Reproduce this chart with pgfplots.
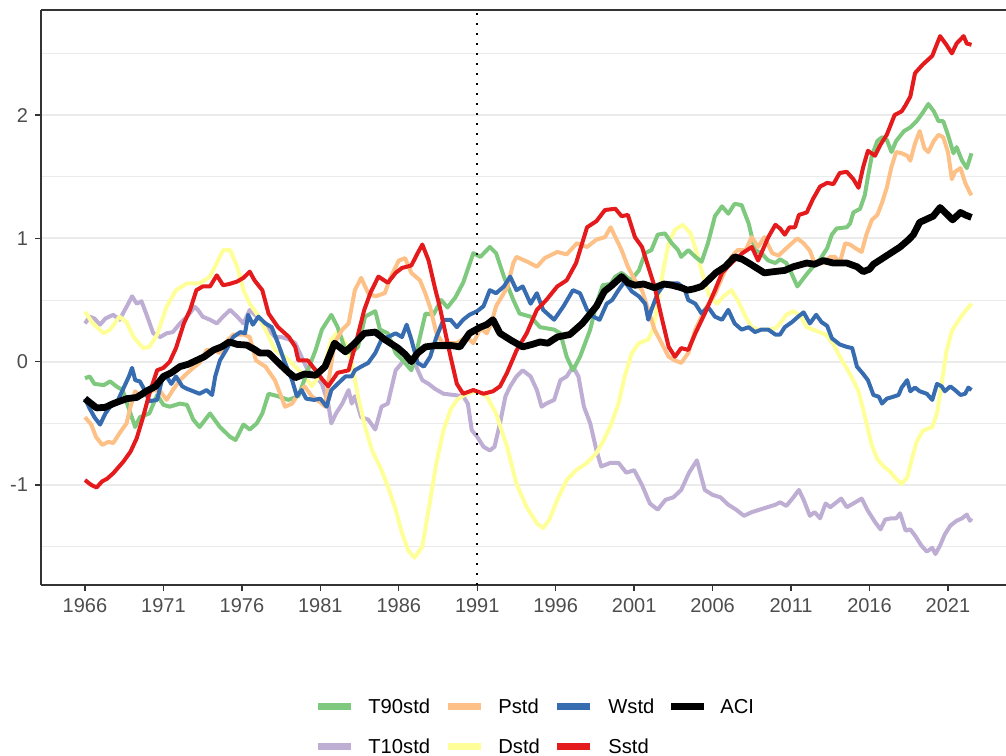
\documentclass[border=0pt]{standalone}
\usepackage{fontspec}
\setmainfont{Liberation Sans}
\usepackage{pgfplots}
\pgfplotsset{compat=1.18}
\definecolor{cT90}{HTML}{7FC97F}
\definecolor{cT10}{HTML}{BEAED4}
\definecolor{cP}{HTML}{FDC086}
\definecolor{cD}{HTML}{FFFF99}
\definecolor{cW}{HTML}{386CB0}
\definecolor{cS}{HTML}{E41A1C}
\definecolor{gtwenty}{HTML}{333333}
\definecolor{gthirty}{HTML}{4D4D4D}
\definecolor{gridc}{HTML}{EBEBEB}
\begin{document}
\begin{tikzpicture}
\begin{axis}[
  scale only axis, width=482.5pt, height=287.5pt,
  xmin=1963.196, xmax=2024.7, ymin=-1.811, ymax=2.852,
  axis x line*=bottom, axis y line*=left,
  axis line style={color=gtwenty, line width=0.7pt},
  xtick={1966,1971,...,2021},
  ytick={-1,0,1,2},
  minor ytick={-1.5,-0.5,0.5,1.5,2.5},
  ymajorgrids, yminorgrids,
  major grid style={color=gridc, line width=1pt},
  minor grid style={color=gridc, line width=0.5pt},
  tick style={color=gtwenty, line width=0.7pt},
  major tick length=3pt, minor tick length=0pt,
  tick align=outside,
  ticklabel style={font=\fontsize{10}{12}\selectfont, color=gthirty},
  /pgf/number format/1000 sep={},
  /pgf/number format/assume math mode=true,
  every axis plot/.append style={line join=round},
]
% T10std
\addplot[forget plot, cT10, line width=2pt] coordinates {
(1966.0,0.31)(1966.3,0.365)(1966.6,0.35)(1966.96,0.30)(1967.3,0.35)(1967.8,0.38)(1968.2,0.34)(1968.65,0.445)(1969.0,0.53)(1969.3,0.47)(1969.6,0.49)(1969.9,0.39)(1970.35,0.23)(1970.8,0.20)(1971.2,0.23)(1971.6,0.24)(1972.05,0.31)(1972.5,0.365)(1973.0,0.445)(1973.2,0.42)(1973.5,0.365)(1973.97,0.34)(1974.4,0.31)(1974.8,0.365)(1975.25,0.42)(1975.7,0.365)(1976.1,0.31)(1976.5,0.42)(1976.95,0.365)(1977.3,0.33)(1977.7,0.26)(1978.1,0.20)(1978.5,0.20)(1979.0,0.18)(1979.4,0.15)(1979.8,0.04)(1980.2,-0.07)(1980.7,-0.12)(1981.1,-0.18)(1981.5,-0.34)(1981.7,-0.50)(1982.0,-0.42)(1982.4,-0.34)(1982.8,-0.23)(1983.0,-0.34)(1983.2,-0.28)(1983.6,-0.45)(1984.05,-0.47)(1984.5,-0.55)(1984.9,-0.365)(1985.3,-0.34)(1985.8,-0.07)(1986.2,-0.01)(1986.6,0.04)(1987.0,-0.01)(1987.5,-0.15)(1987.9,-0.18)(1988.3,-0.22)(1988.85,-0.26)(1989.5,-0.27)(1990.1,-0.28)(1990.4,-0.34)(1990.65,-0.555)(1991.0,-0.61)(1991.4,-0.69)(1991.8,-0.72)(1992.1,-0.69)(1992.45,-0.50)(1992.8,-0.28)(1993.1,-0.20)(1993.5,-0.12)(1993.9,-0.07)(1994.4,-0.12)(1994.8,-0.23)(1995.1,-0.365)(1995.4,-0.34)(1995.9,-0.31)(1996.3,-0.15)(1996.7,-0.12)(1997.1,-0.04)(1997.45,-0.12)(1997.8,-0.365)(1998.2,-0.50)(1998.6,-0.72)(1998.9,-0.85)(1999.5,-0.82)(2000.0,-0.82)(2000.5,-0.90)(2001.0,-0.88)(2001.5,-1.00)(2002.0,-1.15)(2002.5,-1.20)(2003.0,-1.12)(2003.5,-1.10)(2004.0,-1.04)(2004.5,-0.90)(2005.0,-0.80)(2005.5,-1.04)(2006.0,-1.08)(2006.5,-1.10)(2007.0,-1.16)(2007.5,-1.20)(2008.0,-1.25)(2008.5,-1.22)(2009.0,-1.20)(2009.5,-1.18)(2010.0,-1.16)(2010.3,-1.14)(2010.7,-1.17)(2011.15,-1.10)(2011.5,-1.04)(2011.8,-1.12)(2012.2,-1.25)(2012.5,-1.22)(2012.85,-1.27)(2013.2,-1.15)(2013.5,-1.18)(2013.8,-1.15)(2014.2,-1.11)(2014.55,-1.18)(2014.97,-1.15)(2015.5,-1.11)(2015.9,-1.21)(2016.35,-1.30)(2016.7,-1.36)(2017.0,-1.28)(2017.4,-1.27)(2017.7,-1.27)(2017.95,-1.23)(2018.3,-1.37)(2018.6,-1.36)(2018.9,-1.41)(2019.3,-1.49)(2019.65,-1.54)(2020.0,-1.51)(2020.2,-1.56)(2020.5,-1.49)(2020.8,-1.40)(2021.15,-1.33)(2021.55,-1.29)(2021.9,-1.27)(2022.2,-1.24)(2022.4,-1.29)(2022.5,-1.27)};
% Dstd
\addplot[forget plot, cD, line width=2pt] coordinates {
(1966.0,0.405)(1966.5,0.31)(1967.2,0.23)(1967.6,0.26)(1968.2,0.365)(1968.65,0.32)(1969.1,0.20)(1969.7,0.11)(1970.1,0.12)(1970.6,0.22)(1971.2,0.445)(1971.8,0.58)(1972.5,0.635)(1973.3,0.635)(1973.97,0.69)(1974.4,0.80)(1974.8,0.905)(1975.25,0.905)(1975.7,0.77)(1976.1,0.58)(1976.5,0.47)(1976.95,0.39)(1977.5,0.26)(1978.1,0.095)(1978.75,0.04)(1979.4,-0.04)(1980.0,-0.12)(1980.45,-0.20)(1980.9,-0.12)(1981.3,-0.01)(1981.7,0.18)(1982.1,0.24)(1982.6,0.15)(1983.0,-0.01)(1983.4,-0.28)(1983.85,-0.53)(1984.3,-0.72)(1984.9,-0.88)(1985.3,-1.01)(1985.8,-1.20)(1986.2,-1.39)(1986.6,-1.53)(1987.0,-1.59)(1987.5,-1.50)(1987.9,-1.20)(1988.4,-0.82)(1988.85,-0.555)(1989.3,-0.39)(1989.7,-0.31)(1990.3,-0.26)(1991.0,-0.24)(1991.6,-0.28)(1992.2,-0.42)(1992.9,-0.69)(1993.5,-0.99)(1994.15,-1.18)(1994.8,-1.31)(1995.2,-1.35)(1995.6,-1.28)(1996.1,-1.12)(1996.7,-0.96)(1997.3,-0.88)(1998.0,-0.82)(1998.6,-0.74)(1999.0,-0.65)(1999.5,-0.52)(2000.0,-0.34)(2000.4,-0.12)(2000.85,0.07)(2001.3,0.15)(2001.9,0.18)(2002.2,0.26)(2002.5,0.47)(2002.85,0.74)(2003.2,0.96)(2003.6,1.07)(2004.1,1.11)(2004.6,1.04)(2005.0,0.88)(2005.4,0.69)(2005.8,0.53)(2006.3,0.47)(2006.7,0.53)(2007.2,0.58)(2007.6,0.50)(2008.1,0.365)(2008.5,0.28)(2008.9,0.26)(2009.55,0.26)(2010.0,0.27)(2010.3,0.31)(2010.7,0.38)(2011.15,0.41)(2011.6,0.37)(2012.0,0.28)(2012.6,0.25)(2013.2,0.22)(2013.7,0.14)(2014.2,0.02)(2014.76,-0.10)(2015.3,-0.24)(2015.7,-0.44)(2016.15,-0.68)(2016.5,-0.79)(2016.9,-0.85)(2017.3,-0.89)(2017.7,-0.95)(2018.05,-0.99)(2018.4,-0.94)(2018.7,-0.79)(2019.0,-0.65)(2019.4,-0.56)(2020.0,-0.53)(2020.3,-0.42)(2020.6,-0.18)(2020.9,0.08)(2021.25,0.25)(2021.7,0.34)(2022.1,0.41)(2022.5,0.47)};
% T90std
\addplot[forget plot, cT90, line width=2pt] coordinates {
(1966.0,-0.135)(1966.3,-0.12)(1966.6,-0.18)(1967.2,-0.19)(1967.6,-0.16)(1968.0,-0.20)(1968.4,-0.23)(1968.9,-0.42)(1969.2,-0.53)(1969.5,-0.45)(1970.1,-0.42)(1970.6,-0.27)(1971.0,-0.35)(1971.4,-0.365)(1972.05,-0.34)(1972.5,-0.35)(1972.9,-0.47)(1973.3,-0.53)(1973.97,-0.42)(1974.6,-0.53)(1975.25,-0.61)(1975.6,-0.635)(1976.1,-0.51)(1976.5,-0.55)(1976.95,-0.50)(1977.3,-0.42)(1977.7,-0.26)(1978.3,-0.28)(1978.96,-0.31)(1979.6,-0.28)(1980.2,-0.07)(1980.7,0.095)(1981.1,0.26)(1981.7,0.38)(1982.1,0.28)(1982.6,0.095)(1983.0,0.07)(1983.4,0.12)(1983.85,0.365)(1984.5,0.41)(1984.8,0.26)(1985.3,0.23)(1985.8,0.07)(1986.4,-0.01)(1986.8,-0.07)(1987.2,0.12)(1987.7,0.39)(1988.2,0.38)(1988.7,0.50)(1989.1,0.44)(1989.6,0.52)(1990.1,0.64)(1990.75,0.88)(1991.2,0.85)(1991.8,0.93)(1992.2,0.88)(1992.7,0.69)(1993.3,0.50)(1993.7,0.39)(1994.4,0.365)(1995.0,0.28)(1995.9,0.26)(1996.3,0.23)(1996.7,0.04)(1997.1,-0.07)(1997.55,0.04)(1998.2,0.26)(1998.6,0.47)(1999.0,0.62)(1999.5,0.63)(1999.8,0.69)(2000.2,0.72)(2000.8,0.66)(2001.3,0.74)(2001.7,0.88)(2002.1,0.905)(2002.5,1.03)(2002.96,1.04)(2003.4,0.96)(2003.8,0.905)(2004.0,0.85)(2004.45,0.905)(2004.9,0.85)(2005.3,0.81)(2005.7,0.96)(2006.15,1.18)(2006.6,1.26)(2007.0,1.20)(2007.4,1.28)(2007.85,1.27)(2008.3,1.12)(2008.7,0.905)(2009.1,0.88)(2009.55,0.82)(2010.0,0.80)(2010.3,0.83)(2010.7,0.80)(2011.05,0.71)(2011.4,0.61)(2011.7,0.66)(2012.0,0.71)(2012.4,0.77)(2012.85,0.83)(2013.3,0.92)(2013.6,1.03)(2013.9,1.08)(2014.55,1.09)(2014.76,1.12)(2014.97,1.21)(2015.4,1.24)(2015.7,1.35)(2015.9,1.50)(2016.15,1.67)(2016.5,1.79)(2016.8,1.82)(2017.1,1.80)(2017.4,1.70)(2017.7,1.79)(2018.2,1.87)(2018.6,1.90)(2019.0,1.95)(2019.4,2.02)(2019.75,2.09)(2020.1,2.03)(2020.4,1.95)(2020.7,1.95)(2021.0,1.84)(2021.35,1.69)(2021.55,1.74)(2021.9,1.63)(2022.2,1.57)(2022.5,1.69)};
% Pstd
\addplot[forget plot, cP, line width=2pt] coordinates {
(1966.0,-0.45)(1966.4,-0.51)(1966.7,-0.61)(1967.1,-0.675)(1967.5,-0.65)(1967.8,-0.66)(1968.2,-0.58)(1968.65,-0.50)(1968.9,-0.365)(1969.2,-0.24)(1969.5,-0.28)(1969.9,-0.27)(1970.35,-0.23)(1970.8,-0.24)(1971.2,-0.31)(1971.6,-0.23)(1972.05,-0.15)(1972.5,-0.095)(1972.9,-0.05)(1973.3,-0.01)(1973.75,0.095)(1974.2,0.095)(1974.6,0.07)(1975.0,0.16)(1975.45,0.22)(1976.1,0.22)(1976.5,0.20)(1976.9,0.01)(1977.5,-0.04)(1978.1,-0.15)(1978.5,-0.28)(1978.75,-0.365)(1979.2,-0.34)(1979.6,-0.26)(1980.0,-0.20)(1980.45,-0.28)(1981.1,-0.34)(1981.3,-0.365)(1981.5,-0.18)(1981.9,0.15)(1982.4,0.26)(1982.8,0.31)(1983.2,0.58)(1983.6,0.68)(1984.05,0.555)(1984.5,0.53)(1985.1,0.555)(1985.5,0.69)(1986.0,0.82)(1986.4,0.84)(1986.8,0.72)(1987.35,0.66)(1987.7,0.55)(1988.0,0.44)(1988.4,0.23)(1988.8,0.15)(1989.7,0.15)(1990.3,0.20)(1990.75,0.15)(1991.2,0.27)(1991.6,0.23)(1991.9,0.31)(1992.2,0.45)(1992.9,0.60)(1993.3,0.80)(1993.5,0.85)(1994.2,0.81)(1994.8,0.77)(1995.3,0.84)(1996.1,0.89)(1996.7,0.87)(1997.35,0.96)(1998.0,0.93)(1998.6,0.99)(1999.14,1.01)(1999.5,1.09)(1999.8,1.01)(2000.2,0.905)(2000.6,0.77)(2001.05,0.66)(2001.5,0.58)(2001.9,0.42)(2002.3,0.26)(2002.75,0.15)(2003.2,0.04)(2003.6,0.01)(2004.0,-0.01)(2004.45,0.07)(2004.9,0.26)(2005.5,0.42)(2006.15,0.55)(2006.8,0.74)(2007.2,0.85)(2007.6,0.905)(2008.1,0.905)(2008.5,1.01)(2008.9,0.93)(2009.3,1.01)(2009.8,0.88)(2010.2,0.86)(2010.7,0.92)(2011.05,0.96)(2011.4,1.00)(2011.8,0.96)(2012.2,0.90)(2012.5,0.80)(2013.05,0.80)(2013.5,0.85)(2013.8,0.85)(2014.1,0.80)(2014.45,0.96)(2014.76,0.95)(2015.1,0.92)(2015.5,0.89)(2015.8,1.03)(2016.15,1.15)(2016.5,1.19)(2016.8,1.29)(2017.1,1.41)(2017.4,1.58)(2017.7,1.70)(2018.05,1.69)(2018.4,1.67)(2018.6,1.63)(2018.9,1.77)(2019.2,1.87)(2019.5,1.73)(2019.75,1.70)(2020.1,1.79)(2020.4,1.84)(2020.7,1.82)(2021.0,1.70)(2021.25,1.48)(2021.45,1.54)(2021.8,1.57)(2022.1,1.45)(2022.4,1.37)(2022.5,1.35)};
% Wstd
\addplot[forget plot, cW, line width=2pt] coordinates {
(1966.0,-0.30)(1966.3,-0.38)(1966.6,-0.45)(1966.96,-0.51)(1967.3,-0.42)(1967.6,-0.365)(1968.0,-0.34)(1968.4,-0.23)(1968.8,-0.12)(1969.0,-0.05)(1969.2,-0.15)(1969.5,-0.16)(1969.8,-0.23)(1970.1,-0.32)(1970.6,-0.31)(1970.9,-0.15)(1971.2,-0.12)(1971.5,-0.18)(1971.8,-0.12)(1972.2,-0.20)(1972.5,-0.22)(1972.9,-0.24)(1973.3,-0.26)(1973.75,-0.23)(1974.1,-0.27)(1974.3,-0.12)(1974.6,0.01)(1975.0,0.095)(1975.45,0.20)(1975.9,0.24)(1976.2,0.23)(1976.4,0.38)(1976.7,0.30)(1977.05,0.365)(1977.5,0.31)(1977.9,0.28)(1978.3,0.15)(1978.75,-0.01)(1979.2,-0.15)(1979.5,-0.28)(1979.8,-0.23)(1980.1,-0.30)(1980.6,-0.31)(1981.0,-0.30)(1981.4,-0.365)(1981.7,-0.23)(1982.1,-0.18)(1982.6,-0.12)(1983.0,-0.12)(1983.2,-0.07)(1983.6,-0.04)(1984.05,-0.01)(1984.5,0.07)(1984.9,0.18)(1985.3,0.20)(1985.8,0.23)(1986.2,0.20)(1986.5,0.30)(1986.8,0.18)(1987.2,-0.01)(1987.6,-0.04)(1988.0,0.04)(1988.4,0.20)(1988.85,0.34)(1989.3,0.34)(1989.7,0.28)(1990.1,0.34)(1990.5,0.38)(1991.0,0.41)(1991.4,0.45)(1991.8,0.58)(1992.2,0.555)(1992.7,0.61)(1993.1,0.69)(1993.5,0.58)(1993.9,0.61)(1994.4,0.47)(1994.8,0.555)(1995.2,0.42)(1995.9,0.34)(1996.5,0.45)(1997.1,0.58)(1997.55,0.555)(1998.0,0.42)(1998.4,0.365)(1998.8,0.34)(1999.25,0.47)(1999.6,0.50)(2000.0,0.58)(2000.4,0.65)(2000.85,0.57)(2001.3,0.53)(2001.7,0.47)(2001.9,0.34)(2002.1,0.42)(2002.5,0.555)(2002.96,0.635)(2003.4,0.635)(2003.8,0.635)(2004.2,0.595)(2004.45,0.50)(2004.9,0.47)(2005.3,0.39)(2005.7,0.445)(2006.15,0.365)(2006.6,0.34)(2007.0,0.42)(2007.4,0.31)(2007.85,0.26)(2008.3,0.28)(2008.7,0.24)(2009.1,0.26)(2009.55,0.26)(2010.0,0.22)(2010.3,0.22)(2010.6,0.28)(2011.05,0.32)(2011.5,0.37)(2011.8,0.40)(2012.2,0.31)(2012.6,0.38)(2012.95,0.32)(2013.3,0.29)(2013.6,0.19)(2014.1,0.14)(2014.55,0.12)(2014.9,0.11)(2015.2,-0.04)(2015.6,-0.10)(2015.9,-0.15)(2016.25,-0.27)(2016.6,-0.285)(2016.8,-0.34)(2017.1,-0.30)(2017.5,-0.285)(2017.85,-0.27)(2018.05,-0.21)(2018.4,-0.15)(2018.6,-0.24)(2018.9,-0.21)(2019.2,-0.24)(2019.65,-0.26)(2020.0,-0.31)(2020.3,-0.18)(2020.6,-0.20)(2020.8,-0.24)(2021.15,-0.20)(2021.45,-0.23)(2021.8,-0.27)(2022.1,-0.26)(2022.3,-0.21)(2022.5,-0.23)};
% Sstd
\addplot[forget plot, cS, line width=2pt] coordinates {
(1966.0,-0.96)(1966.4,-1.00)(1966.74,-1.02)(1967.1,-0.97)(1967.4,-0.95)(1967.8,-0.905)(1968.45,-0.81)(1968.9,-0.73)(1969.3,-0.62)(1969.7,-0.45)(1970.1,-0.26)(1970.6,-0.07)(1971.0,-0.05)(1971.4,0.0)(1971.8,0.11)(1972.3,0.31)(1972.7,0.42)(1973.1,0.58)(1973.5,0.61)(1973.97,0.61)(1974.4,0.70)(1974.8,0.62)(1975.2,0.63)(1975.7,0.65)(1976.1,0.68)(1976.5,0.73)(1976.8,0.66)(1977.3,0.58)(1977.7,0.39)(1978.3,0.28)(1979.0,0.20)(1979.4,0.12)(1979.6,0.01)(1980.2,0.01)(1980.7,-0.07)(1981.1,-0.14)(1981.5,-0.20)(1982.1,-0.09)(1982.8,-0.07)(1983.2,0.12)(1983.8,0.42)(1984.2,0.56)(1984.7,0.69)(1985.3,0.64)(1985.8,0.72)(1986.2,0.76)(1986.8,0.78)(1987.2,0.88)(1987.5,0.95)(1987.9,0.82)(1988.3,0.60)(1988.6,0.45)(1989.3,0.04)(1989.7,-0.18)(1990.1,-0.26)(1990.75,-0.23)(1991.4,-0.26)(1992.0,-0.24)(1992.45,-0.20)(1992.9,-0.09)(1993.5,0.09)(1994.15,0.23)(1994.8,0.42)(1995.4,0.50)(1996.1,0.61)(1996.7,0.66)(1997.3,0.80)(1998.0,1.09)(1998.6,1.14)(1999.14,1.23)(1999.8,1.24)(2000.2,1.18)(2000.6,1.19)(2001.05,1.01)(2001.5,0.93)(2001.9,0.77)(2002.3,0.61)(2002.75,0.36)(2003.2,0.12)(2003.6,0.04)(2004.0,0.11)(2004.45,0.095)(2004.9,0.23)(2005.5,0.39)(2006.15,0.58)(2006.6,0.72)(2007.2,0.80)(2007.9,0.88)(2008.5,0.93)(2008.9,0.82)(2009.55,1.01)(2010.0,1.11)(2010.3,1.08)(2010.6,1.03)(2010.9,1.09)(2011.25,1.09)(2011.5,1.19)(2012.0,1.21)(2012.4,1.32)(2012.85,1.42)(2013.3,1.45)(2013.7,1.44)(2014.1,1.53)(2014.55,1.54)(2014.97,1.48)(2015.3,1.41)(2015.6,1.58)(2015.9,1.71)(2016.35,1.67)(2016.7,1.76)(2017.1,1.84)(2017.6,2.00)(2018.05,2.03)(2018.3,2.08)(2018.6,2.15)(2018.9,2.34)(2019.4,2.41)(2020.0,2.48)(2020.5,2.64)(2020.9,2.57)(2021.25,2.50)(2021.55,2.58)(2022.0,2.64)(2022.2,2.58)(2022.5,2.57)};
% vertical dotted line
\addplot[forget plot, black, line width=1pt, line cap=butt, dash pattern=on 1pt off 4pt] coordinates {(1991,-1.811)(1991,2.852)};
% ACI
\addplot[forget plot, black, line width=3.4pt] coordinates {
(1966.0,-0.30)(1966.74,-0.375)(1967.3,-0.37)(1967.8,-0.34)(1968.66,-0.30)(1969.3,-0.29)(1969.9,-0.24)(1970.5,-0.20)(1971.0,-0.12)(1971.5,-0.09)(1972.05,-0.04)(1972.6,-0.02)(1973.1,0.01)(1973.6,0.04)(1974.2,0.095)(1974.7,0.12)(1975.2,0.16)(1975.7,0.14)(1976.3,0.135)(1976.8,0.10)(1977.15,0.07)(1977.7,0.07)(1978.1,0.02)(1978.5,-0.03)(1979.0,-0.09)(1979.4,-0.13)(1980.0,-0.10)(1980.7,-0.11)(1981.3,-0.04)(1981.9,0.15)(1982.6,0.08)(1983.2,0.15)(1983.8,0.23)(1984.5,0.24)(1985.1,0.18)(1985.95,0.11)(1986.4,0.06)(1986.8,0.0)(1987.2,0.07)(1987.7,0.12)(1988.3,0.13)(1988.8,0.13)(1989.4,0.13)(1989.9,0.12)(1990.5,0.23)(1991.2,0.28)(1991.6,0.30)(1992.0,0.34)(1992.45,0.23)(1993.2,0.17)(1993.9,0.12)(1994.5,0.14)(1995.0,0.16)(1995.5,0.15)(1996.1,0.20)(1996.9,0.22)(1997.7,0.31)(1998.6,0.45)(1999.1,0.57)(1999.5,0.61)(2000.2,0.69)(2000.6,0.64)(2001.05,0.62)(2001.6,0.63)(2002.3,0.60)(2002.9,0.63)(2003.4,0.62)(2004.0,0.60)(2004.4,0.58)(2004.8,0.59)(2005.3,0.61)(2005.8,0.67)(2006.2,0.72)(2006.8,0.77)(2007.4,0.85)(2007.9,0.83)(2008.3,0.80)(2008.8,0.76)(2009.3,0.72)(2009.9,0.73)(2010.6,0.74)(2011.15,0.77)(2012.0,0.80)(2012.5,0.79)(2013.05,0.82)(2013.7,0.80)(2014.55,0.80)(2015.2,0.77)(2015.6,0.73)(2016.0,0.75)(2016.25,0.79)(2017.1,0.86)(2017.95,0.93)(2018.5,0.99)(2018.8,1.03)(2019.2,1.13)(2020.06,1.18)(2020.5,1.25)(2020.9,1.20)(2021.3,1.15)(2021.8,1.21)(2022.1,1.19)(2022.5,1.17)};
\draw[gtwenty, line width=0.7pt] (rel axis cs:0,1) -- (rel axis cs:1,1);
\end{axis}
% legend (axis box south-west is at the origin; 1pt = 2 image pixels)
\begin{scope}[line cap=butt, line width=3.5pt]
\draw[cT90]  (138.5pt,-60.5pt) -- (155pt,-60.5pt);
\draw[cP]    (203.5pt,-60.5pt) -- (220pt,-60.5pt);
\draw[cW]    (258pt,-60.5pt) -- (274.5pt,-60.5pt);
\draw[black] (315pt,-60.5pt) -- (331.5pt,-60.5pt);
\draw[cT10]  (138.5pt,-80.6pt) -- (155pt,-80.6pt);
\draw[cD]    (203.5pt,-80.6pt) -- (220pt,-80.6pt);
\draw[cS]    (258pt,-80.6pt) -- (274.5pt,-80.6pt);
\end{scope}
\begin{scope}[every node/.style={anchor=base west, inner sep=0pt, font=\fontsize{10.1}{12}\selectfont}]
\node at (163.5pt,-64.3pt) {T90std};
\node at (228.5pt,-64.3pt) {Pstd};
\node at (283.5pt,-64.3pt) {Wstd};
\node at (339.5pt,-64.3pt) {ACI};
\node at (163.5pt,-84pt) {T10std};
\node at (228.5pt,-84pt) {Dstd};
\node at (283.5pt,-84pt) {Sstd};
\end{scope}
\pgfresetboundingbox
\path[use as bounding box] (-20.5pt,-85pt) rectangle (482.5pt,292.5pt);
\end{tikzpicture}
\end{document}
